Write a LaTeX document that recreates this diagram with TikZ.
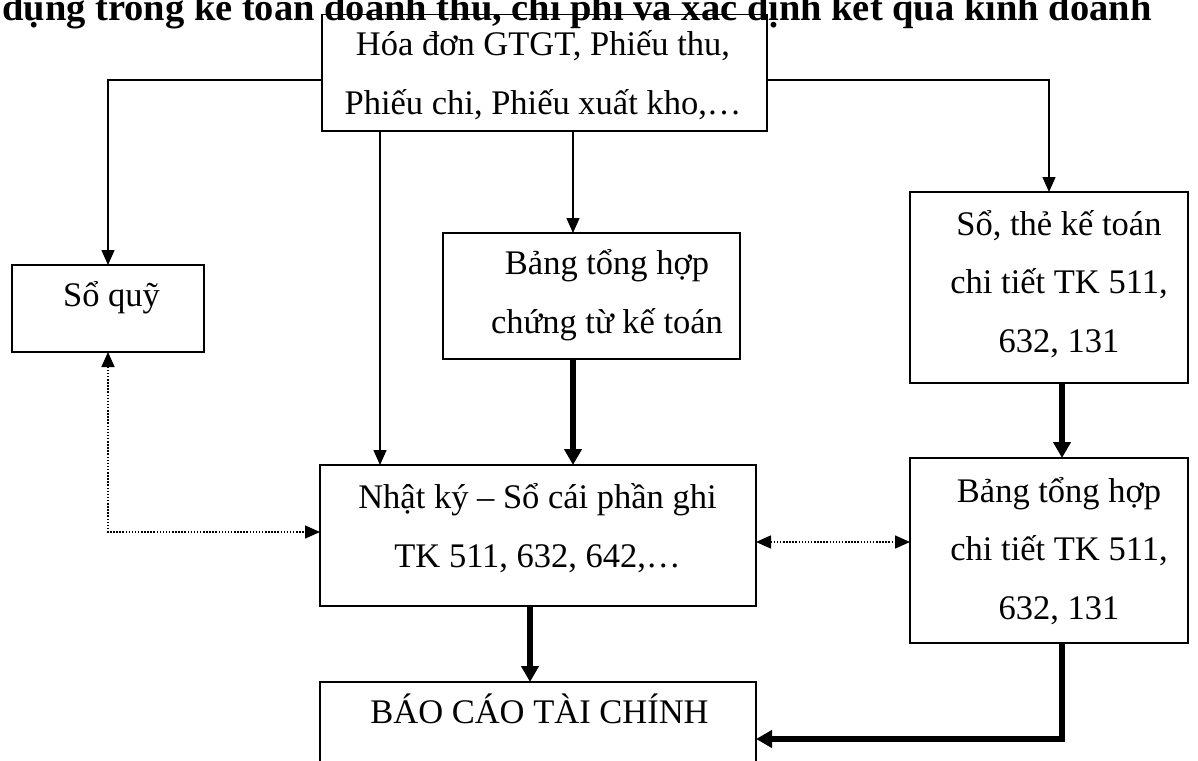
\documentclass[tikz,border=0pt]{standalone}
\usepackage{fontspec}
\setmainfont{Liberation Serif}
\usetikzlibrary{arrows.meta}
\begin{document}
\begin{tikzpicture}[x=1pt,y=-1pt,
  box/.style={draw, line width=1.6pt, rectangle, inner sep=0pt, outer sep=0pt},
  % anchored at the baseline of the last line
  txt/.style={font=\fontsize{34.5}{58.5}\selectfont, align=center, inner sep=0pt, anchor=base},
  flow/.style={line width=1.4pt, -{Triangle[length=15pt,width=13pt]}},
  heavy/.style={line width=5.5pt, -{Triangle[length=16pt,width=17pt]}},
  link/.style={line width=1.5pt, dash pattern=on 1.5pt off 1.6pt,
    {Triangle[length=15pt,width=13pt]}-{Triangle[length=15pt,width=13pt]}},
]
\clip (0,0) rectangle (1198,760);

% heading line
\node[font=\fontsize{38.5}{40}\selectfont\bfseries, anchor=base west, inner sep=0pt]
  (title) at (2,21) {dụng trong kế toán doanh thu, chi phí và xác định kết quả kinh doanh};

% boxes
\node[box, minimum width=445pt, minimum height=116.3pt] (src)   at (544.5,72.85) {};
\node[box, minimum width=192pt, minimum height=87pt]    (soquy) at (108,308.5) {};
\node[box, minimum width=297pt, minimum height=126pt]   (bth)   at (591.5,296) {};
\node[box, minimum width=278pt, minimum height=191pt]   (sothe) at (1049,287.5) {};
\node[box, minimum width=436pt, minimum height=141pt]   (nk)    at (538,535.5) {};
\node[box, minimum width=278pt, minimum height=185pt]   (btct)  at (1049,550.5) {};
\node[box, minimum width=436pt, minimum height=140pt]   (bctc)  at (538,752) {};

% box texts
\node[txt] (src-t)   at (543,114)    {Hóa đơn GTGT, Phiếu thu,\\Phiếu chi, Phiếu xuất kho,…};
\node[txt] (soquy-t) at (111.5,306.7) {Sổ quỹ};
\node[txt] (bth-t)   at (607,333)    {Bảng tổng hợp\\chứng từ kế toán};
\node[txt] (sothe-t) at (1059,352)   {Sổ, thẻ kế toán\\chi tiết TK 511,\\632, 131};
\node[txt] (nk-t)    at (537.5,567)  {Nhật ký – Sổ cái phần ghi\\TK 511, 632, 642,…};
\node[txt] (btct-t)  at (1059,619)   {Bảng tổng hợp\\chi tiết TK 511,\\632, 131};
\node[txt] (bctc-t)  at (539.5,723)  {BÁO CÁO TÀI CHÍNH};

% guide coordinates for the connectors
\coordinate (yT) at (0,80);
\coordinate (xA) at (380,0);
\coordinate (xB) at (573,0);
\coordinate (xC) at (1062,0);
\coordinate (xD) at (530,0);
\coordinate (yE) at (0,739);
\coordinate (yF) at (0,532);
\coordinate (yG) at (0,542);

% thin arrows from the source documents
\draw[flow] (src.west |- yT) -| (soquy.north);
\draw[flow] (src.east |- yT) -| (sothe.north);
\draw[flow] (src.south -| xA) -- (nk.north -| xA);
\draw[flow] (src.south -| xB) -- (bth.north -| xB);

% heavy arrows
\draw[heavy] (bth.south -| xB) -- (nk.north -| xB);
\draw[heavy] (sothe.south -| xC) -- (btct.north -| xC);
\draw[heavy] (nk.south -| xD) -- (bctc.north -| xD);
\draw[heavy] (btct.south -| xC) |- (bctc.east |- yE);

% dotted cross-checks
\draw[link] (soquy.south) |- (nk.west |- yF);
\draw[link] (nk.east |- yG) -- (btct.west |- yG);
\end{tikzpicture}
\end{document}
